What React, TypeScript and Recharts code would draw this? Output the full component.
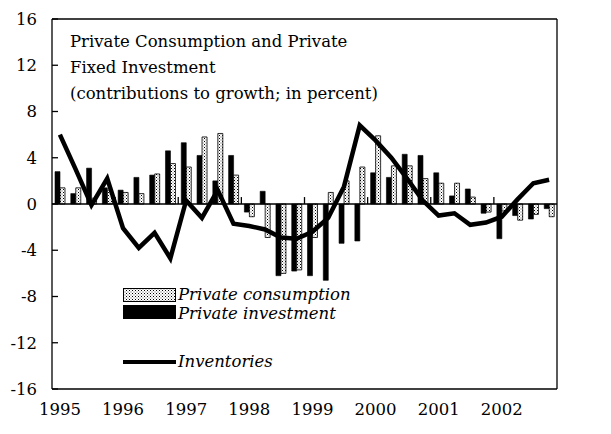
import React from 'react';
import { ComposedChart, Bar, Line, XAxis, YAxis, ReferenceLine, Legend } from 'recharts';

const years = ['1995', '1996', '1997', '1998', '1999', '2000', '2001', '2002'];
const quarterNames = ['Q1', 'Q2', 'Q3', 'Q4'];
const quarters = years.flatMap((y) => quarterNames.map((q) => `${y}${q}`));

const privateInvestment = [
  2.8, 0.9, 3.1, 1.4,
  1.2, 2.3, 2.5, 4.6,
  5.3, 4.2, 2.0, 4.2,
  -0.7, 1.1, -6.2, -5.8,
  -6.2, -6.6, -3.4, -3.2,
  2.7, 2.3, 4.3, 4.2,
  2.7, 0.7, 1.3, -0.8,
  -3.0, -1.0, -1.3, -0.4,
];
const privateConsumption = [
  1.4, 1.4, 0.5, 1.2,
  1.0, 0.9, 2.6, 3.5,
  3.2, 5.8, 6.1, 2.5,
  -1.1, -2.9, -6.0, -5.7,
  -2.9, 1.0, 2.0, 3.2,
  5.9, 3.3, 3.3, 2.2,
  1.8, 1.8, 0.6, -0.7,
  -0.6, -1.4, -0.9, -1.1,
];
const inventories = [
  6.0, 3.0, -0.1, 2.2,
  -2.1, -3.8, -2.5, -4.7,
  0.3, -1.2, 1.2, -1.7,
  -1.9, -2.2, -2.9, -3.0,
  -2.4, -1.2, 1.5, 6.8,
  5.5, 4.0, 2.2, 0.3,
  -1.0, -0.8, -1.8, -1.6,
  -1.1, 0.4, 1.8, 2.1,
];
const yTicks = [-16, -12, -8, -4, 0, 4, 8, 12, 16];
const yearTicks = years.map((y) => `${y}Q1`);

const data = quarters.map((q, i) => ({
  q,
  inv: privateInvestment[i],
  cons: privateConsumption[i],
  invent: inventories[i],
}));

const tickFont = { fontFamily: 'DejaVu Serif', fontSize: 16.5, fill: '#000' };

const HatchPattern = ({ id }: { id: string }) => (
  <pattern id={id} width={3} height={3} patternUnits="userSpaceOnUse">
    <rect x={0} y={0} width={3} height={3} fill="#fff" />
    <rect x={0} y={0} width={1} height={1} fill="#000" />
    <rect x={1.5} y={1.5} width={1} height={1} fill="#555" />
  </pattern>
);

const legendText = {
  fontFamily: 'DejaVu Serif',
  fontStyle: 'italic' as const,
  fontSize: 16.5,
  fill: '#000',
};

const LegendContent = () => (
  <svg width={260} height={92} style={{ display: 'block', overflow: 'visible' }}>
    <defs>
      <HatchPattern id="hatchLegend" />
    </defs>
    <rect x={0.5} y={4.5} width={52} height={13} fill="url(#hatchLegend)" stroke="#000" />
    <text x={55} y={16} {...legendText}>
      Private consumption
    </text>
    <rect x={0.5} y={21.5} width={52} height={13} fill="#000" stroke="#000" />
    <text x={55} y={35} {...legendText}>
      Private investment
    </text>
    <line x1={0} y1={78} x2={53} y2={78} stroke="#000" strokeWidth={4} />
    <text x={55} y={83} {...legendText}>
      Inventories
    </text>
  </svg>
);

export default function App() {
  return (
    <div style={{ position: 'absolute', left: 0, top: 0, width: 611, height: 434, background: '#fff' }}>
      <ComposedChart
        width={611}
        height={434}
        data={data}
        margin={{ top: 19, right: 0, bottom: 0, left: 0 }}
        barGap={0}
      >
        <defs>
          <HatchPattern id="hatchBar" />
        </defs>
        <XAxis
          dataKey="q"
          ticks={yearTicks}
          interval={0}
          tickFormatter={(v: string) => v.slice(0, 4)}
          tickLine={false}
          tickSize={0}
          tickMargin={14}
          height={45}
          axisLine={{ stroke: '#000', strokeWidth: 1.3 }}
          tick={tickFont}
        />
        <YAxis
          yAxisId="left"
          domain={[-16, 16]}
          ticks={yTicks}
          interval={0}
          width={52}
          tickSize={-6}
          tickMargin={21}
          axisLine={{ stroke: '#000', strokeWidth: 1.3 }}
          tickLine={{ stroke: '#000', strokeWidth: 1.3 }}
          tick={tickFont}
        />
        <YAxis
          yAxisId="right"
          orientation="right"
          domain={[-16, 16]}
          ticks={yTicks}
          interval={0}
          width={54}
          tickSize={-7}
          tickMargin={23}
          axisLine={{ stroke: '#000', strokeWidth: 1.3 }}
          tickLine={{ stroke: '#000', strokeWidth: 1.3 }}
          tick={tickFont}
        />
        <ReferenceLine yAxisId="left" y={16} stroke="#000" strokeWidth={1.3} />
        <ReferenceLine yAxisId="left" y={0} stroke="#000" strokeWidth={1.3} />
        {years.slice(1).map((y) => (
          <ReferenceLine
            key={y}
            yAxisId="left"
            position="start"
            segment={[
              { x: `${y}Q1`, y: 0 },
              { x: `${y}Q1`, y: 0.6 },
            ]}
            stroke="#000"
            strokeWidth={1.3}
          />
        ))}
        <Bar
          yAxisId="left"
          dataKey="inv"
          name="Private investment"
          fill="#000"
          stroke="#000"
          strokeWidth={0.6}
          barSize={5}
          isAnimationActive={false}
        />
        <Bar
          yAxisId="left"
          dataKey="cons"
          name="Private consumption"
          fill="url(#hatchBar)"
          stroke="#000"
          strokeWidth={0.8}
          barSize={5}
          isAnimationActive={false}
        />
        <Line
          yAxisId="left"
          dataKey="invent"
          name="Inventories"
          type="linear"
          stroke="#000"
          strokeWidth={4.5}
          dot={false}
          activeDot={false}
          isAnimationActive={false}
        />
        <Legend
          layout="vertical"
          align="center"
          verticalAlign="middle"
          content={<LegendContent />}
          wrapperStyle={{ left: 123, top: 284, width: 260, height: 92 }}
        />
      </ComposedChart>
      <div
        style={{
          position: 'absolute',
          left: 70,
          top: 29,
          fontFamily: 'DejaVu Serif',
          fontSize: 16.5,
          lineHeight: '26px',
          color: '#000',
          whiteSpace: 'nowrap',
        }}
      >
        Private Consumption and Private
        <br />
        Fixed Investment
        <br />
        (contributions to growth; in percent)
      </div>
    </div>
  );
}
